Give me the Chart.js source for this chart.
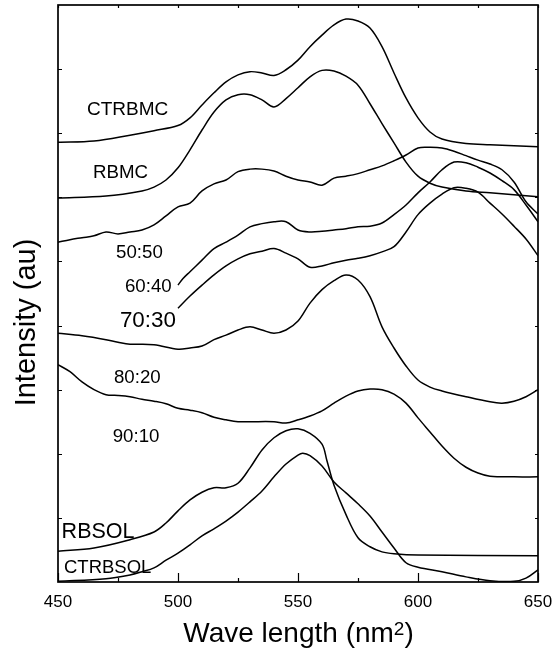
<!DOCTYPE html>
<html>
<head>
<meta charset="utf-8">
<script src="https://cdn.jsdelivr.net/npm/chart.js@4/dist/chart.umd.min.js"></script>
<style>
  html, body { margin: 0; padding: 0; background: #fff; }
  #pl-wrap { width: 556px; height: 656px; }
</style>
</head>
<body>
<div id="pl-wrap"><canvas id="pl-chart" width="556" height="656"></canvas></div>
<script>
/* PL spectra of the blends, stacked with an offset (arbitrary units).
 * Each curve keeps its own wavelength list (nm) and intensity list (au),
 * read off the original figure. Frame, inward ticks and the curve names
 * are drawn by a small plugin through the chart's own x / y scales.
 */

// axis ticks
var xMajorTicks = [450, 500, 550, 600, 650];
var xMinorTicks = [475, 525, 575, 625];
var yTicks = [1, 2, 3, 4, 5, 6, 7, 8];

// CTRBMC
var ctrbmcNm = [450, 465, 480, 490, 500, 505, 510, 515, 520, 525, 530, 535, 540, 545, 550, 555, 560, 565, 570, 575, 580, 585, 590, 595, 600, 605, 610, 620, 630, 650];
var ctrbmcI  = [6.86, 6.88, 6.97, 7.04, 7.12, 7.24, 7.44, 7.63, 7.80, 7.91, 7.96, 7.94, 7.90, 7.99, 8.14, 8.35, 8.53, 8.69, 8.78, 8.75, 8.64, 8.35, 7.94, 7.55, 7.24, 7.02, 6.91, 6.84, 6.82, 6.79];

// RBMC
var rbmcNm = [450, 470, 485, 490, 495, 500, 505, 510, 515, 520, 525, 530, 535, 540, 545, 550, 555, 560, 565, 570, 575, 580, 585, 590, 595, 600, 605, 610, 620, 630, 650];
var rbmcI  = [5.99, 6.02, 6.10, 6.16, 6.27, 6.46, 6.74, 7.05, 7.33, 7.52, 7.60, 7.60, 7.52, 7.41, 7.54, 7.71, 7.88, 7.98, 7.97, 7.89, 7.75, 7.46, 7.15, 6.85, 6.55, 6.33, 6.22, 6.16, 6.10, 6.07, 6.01];

// 50:50
var b5050Nm = [450, 455, 460, 465, 470, 475, 480, 485, 490, 495, 500, 505, 510, 515, 520, 525, 530, 535, 540, 545, 550, 555, 560, 565, 570, 575, 580, 585, 590, 595, 600, 605, 610, 615, 620, 625, 630, 635, 640, 645, 650];
var b5050I  = [5.30, 5.34, 5.37, 5.40, 5.46, 5.43, 5.46, 5.49, 5.57, 5.71, 5.85, 5.91, 6.10, 6.21, 6.27, 6.40, 6.44, 6.44, 6.41, 6.33, 6.27, 6.24, 6.19, 6.30, 6.33, 6.37, 6.43, 6.49, 6.57, 6.66, 6.77, 6.78, 6.77, 6.72, 6.65, 6.58, 6.52, 6.43, 6.24, 5.93, 5.74];

// 60:40
var b6040Nm = [500, 502, 505, 510, 515, 520, 525, 530, 535, 540, 545, 550, 555, 560, 565, 570, 575, 580, 585, 590, 595, 600, 605, 610, 615, 620, 625, 630, 635, 640, 645, 650];
var b6040I  = [4.63, 4.73, 4.84, 5.02, 5.20, 5.30, 5.41, 5.54, 5.59, 5.62, 5.62, 5.49, 5.46, 5.47, 5.49, 5.51, 5.54, 5.55, 5.60, 5.73, 5.88, 6.07, 6.24, 6.43, 6.55, 6.54, 6.47, 6.38, 6.26, 6.12, 5.88, 5.62];

// 70:30
var b7030Nm = [500, 505, 510, 515, 520, 525, 530, 535, 540, 545, 550, 555, 560, 565, 570, 575, 580, 585, 590, 595, 600, 605, 610, 615, 620, 625, 630, 635, 640, 645, 650];
var b7030I  = [4.27, 4.46, 4.63, 4.79, 4.93, 5.04, 5.12, 5.16, 5.20, 5.13, 5.04, 4.91, 4.93, 4.98, 5.02, 5.05, 5.09, 5.15, 5.23, 5.46, 5.73, 5.91, 6.05, 6.15, 6.14, 6.08, 5.91, 5.74, 5.55, 5.35, 5.09];

// 80:20
var b8020Nm = [450, 460, 470, 475, 480, 490, 500, 505, 510, 515, 520, 525, 530, 535, 540, 545, 550, 555, 560, 565, 570, 575, 580, 585, 590, 595, 600, 605, 610, 620, 630, 635, 640, 645, 650];
var b8020I  = [3.88, 3.84, 3.78, 3.74, 3.71, 3.70, 3.63, 3.65, 3.68, 3.78, 3.85, 3.93, 3.98, 3.93, 3.88, 3.93, 4.07, 4.35, 4.56, 4.70, 4.79, 4.71, 4.45, 3.98, 3.65, 3.37, 3.15, 3.04, 2.98, 2.89, 2.81, 2.79, 2.82, 2.89, 3.00];

// 90:10
var b9010Nm = [450, 455, 460, 465, 470, 475, 480, 485, 490, 495, 500, 505, 510, 515, 520, 525, 530, 540, 545, 550, 555, 560, 565, 570, 575, 580, 585, 590, 595, 600, 605, 610, 615, 620, 625, 630, 640, 650];
var b9010I  = [3.39, 3.28, 3.12, 3.00, 2.92, 2.91, 2.89, 2.85, 2.82, 2.78, 2.71, 2.68, 2.64, 2.57, 2.53, 2.50, 2.50, 2.50, 2.48, 2.53, 2.59, 2.67, 2.79, 2.90, 2.98, 3.01, 3.00, 2.93, 2.79, 2.56, 2.34, 2.12, 1.93, 1.79, 1.70, 1.65, 1.64, 1.64];

// RBSOL
var rbsolNm = [450, 465, 480, 490, 495, 500, 505, 510, 515, 520, 525, 530, 535, 540, 545, 550, 555, 560, 562, 565, 570, 575, 580, 585, 590, 600, 650];
var rbsolI  = [0.48, 0.53, 0.66, 0.78, 0.92, 1.11, 1.28, 1.40, 1.47, 1.47, 1.54, 1.78, 2.06, 2.25, 2.36, 2.39, 2.32, 2.15, 1.90, 1.51, 1.05, 0.69, 0.55, 0.47, 0.44, 0.42, 0.41];

// CTRBSOL
var ctrbsolNm = [450, 470, 480, 485, 490, 495, 500, 505, 510, 515, 520, 525, 530, 535, 540, 545, 550, 552, 555, 560, 565, 570, 575, 580, 585, 590, 595, 600, 610, 620, 630, 640, 645, 650];
var ctrbsolI  = [0.01, 0.05, 0.11, 0.16, 0.22, 0.34, 0.45, 0.58, 0.72, 0.83, 0.95, 1.09, 1.25, 1.42, 1.64, 1.84, 1.98, 2.01, 1.97, 1.81, 1.56, 1.39, 1.22, 1.03, 0.78, 0.53, 0.30, 0.23, 0.16, 0.08, 0.02, 0.01, 0.06, 0.19];

// curve names: text, anchor (left edge, baseline) in nm / au, font px
var curveLabels = ['CTRBMC', 'RBMC', '50:50', '60:40', '70:30', '80:20', '90:10', 'RBSOL', 'CTRBSOL'];
var curveLabelNm = [462.1, 464.6, 474.2, 477.9, 475.8, 473.3, 472.8, 451.5, 452.5];
var curveLabelI = [7.29, 6.30, 5.05, 4.53, 3.97, 3.11, 2.19, 0.68, 0.14];
var curveLabelSize = [19, 18.7, 18.7, 18.7, 22.4, 18.7, 18.7, 21.5, 18.5];

var plFont = '"Liberation Sans", Arial, Helvetica, sans-serif';

function plPoints(nm, val) {
  return nm.map(function (w, i) { return { x: w, y: val[i] }; });
}

function plSeries(nm, val) {
  return {
    data: plPoints(nm, val),
    borderColor: '#000',
    borderWidth: 1.5,
    pointRadius: 0,
    fill: false,
    tension: 0.35
  };
}

var plFramePlugin = {
  id: 'plFrame',
  afterDraw: function (chart) {
    var ctx = chart.ctx;
    var a = chart.chartArea;
    var xs = chart.scales.x;
    var ys = chart.scales.y;
    var i, px, py;

    ctx.save();
    ctx.strokeStyle = '#000';
    ctx.fillStyle = '#000';

    // frame
    ctx.lineWidth = 1.7;
    ctx.strokeRect(a.left, a.top, a.right - a.left, a.bottom - a.top);

    // inward ticks
    ctx.lineWidth = 1.2;
    ctx.beginPath();
    for (i = 0; i < xMajorTicks.length; i++) {
      px = Math.round(xs.getPixelForValue(xMajorTicks[i])) + 0.5;
      ctx.moveTo(px, a.bottom); ctx.lineTo(px, a.bottom - 9);
      ctx.moveTo(px, a.top); ctx.lineTo(px, a.top + 3);
    }
    for (i = 0; i < xMinorTicks.length; i++) {
      px = Math.round(xs.getPixelForValue(xMinorTicks[i])) + 0.5;
      ctx.moveTo(px, a.bottom); ctx.lineTo(px, a.bottom - 4);
      ctx.moveTo(px, a.top); ctx.lineTo(px, a.top + 3);
    }
    for (i = 0; i < yTicks.length; i++) {
      py = Math.round(ys.getPixelForValue(yTicks[i])) + 0.5;
      ctx.moveTo(a.left, py); ctx.lineTo(a.left + 4, py);
      ctx.moveTo(a.right, py); ctx.lineTo(a.right - 3, py);
    }
    ctx.stroke();

    // x tick labels
    ctx.font = '17px ' + plFont;
    ctx.textAlign = 'center';
    ctx.textBaseline = 'alphabetic';
    for (i = 0; i < xMajorTicks.length; i++) {
      ctx.fillText(String(xMajorTicks[i]), xs.getPixelForValue(xMajorTicks[i]), 606.5);
    }

    // x title with superscript 2
    var mainTxt = 'Wave length (nm';
    ctx.font = '28px ' + plFont;
    var wMain = ctx.measureText(mainTxt).width;
    var wClose = ctx.measureText(')').width;
    ctx.font = '19px ' + plFont;
    var wSup = ctx.measureText('2').width;
    var startX = 298.5 - (wMain + wSup + wClose) / 2;
    ctx.textAlign = 'left';
    ctx.font = '28px ' + plFont;
    ctx.fillText(mainTxt, startX, 641.5);
    ctx.fillText(')', startX + wMain + wSup, 641.5);
    ctx.font = '19px ' + plFont;
    ctx.fillText('2', startX + wMain, 634.5);

    // y title
    ctx.save();
    ctx.translate(35, 322.5);
    ctx.rotate(-Math.PI / 2);
    ctx.font = '29px ' + plFont;
    ctx.textAlign = 'center';
    ctx.fillText('Intensity (au)', 0, 0);
    ctx.restore();

    // curve names
    ctx.textAlign = 'left';
    for (i = 0; i < curveLabels.length; i++) {
      ctx.font = curveLabelSize[i] + 'px ' + plFont;
      ctx.fillText(curveLabels[i], xs.getPixelForValue(curveLabelNm[i]), ys.getPixelForValue(curveLabelI[i]));
    }
    ctx.restore();
  }
};

function initPlChart() {
  var ctx = document.getElementById('pl-chart').getContext('2d');
  new Chart(ctx, {
    type: 'line',
    data: {
      datasets: [
        plSeries(ctrbmcNm, ctrbmcI),
        plSeries(rbmcNm, rbmcI),
        plSeries(b5050Nm, b5050I),
        plSeries(b6040Nm, b6040I),
        plSeries(b7030Nm, b7030I),
        plSeries(b8020Nm, b8020I),
        plSeries(b9010Nm, b9010I),
        plSeries(rbsolNm, rbsolI),
        plSeries(ctrbsolNm, ctrbsolI)
      ]
    },
    options: {
      responsive: false,
      animation: false,
      events: [],
      layout: { padding: { left: 58, right: 18, top: 5, bottom: 74 } },
      plugins: {
        legend: { display: false },
        tooltip: { enabled: false }
      },
      scales: {
        x: { type: 'linear', min: 450, max: 650, display: false },
        y: { type: 'linear', min: 0, max: 9, display: false }
      }
    },
    plugins: [plFramePlugin]
  });
}

initPlChart();
</script>
</body>
</html>
